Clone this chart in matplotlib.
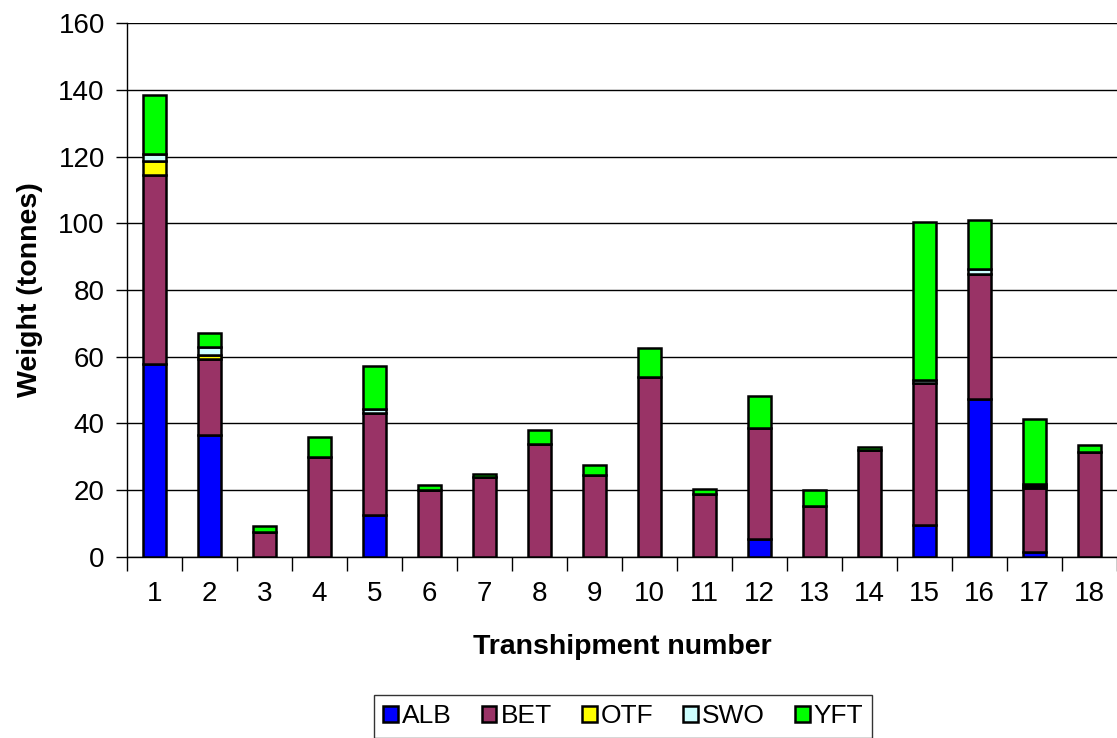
import matplotlib
matplotlib.use("Agg")
import matplotlib.pyplot as plt
import numpy as np
from matplotlib.patches import Patch

plt.rcParams['font.family'] = ['Liberation Sans', 'DejaVu Sans']

categories = [str(i) for i in range(1, 19)]
species = ["ALB", "BET", "OTF", "SWO", "YFT"]
ALB = [57.8, 36.6, 0, 0, 12.6, 0, 0, 0, 0, 0, 0, 5.3, 0, 0, 9.6, 47.3, 1.5, 0]
BET = [56.7, 22.7, 7.5, 30.0, 30.5, 20.0, 24.0, 34.0, 24.5, 54.0, 19.0, 33.2, 15.3, 32.0, 42.5, 37.5, 19.2, 31.5]
OTF = [4.2, 1.2, 0, 0, 0, 0, 0, 0, 0, 0, 0, 0, 0, 0, 0, 0, 0.6, 0]
SWO = [2.1, 2.4, 0, 0, 1.2, 0, 0, 0, 0, 0, 0, 0, 0, 0, 0.8, 1.5, 0.6, 0]
YFT = [17.7, 4.2, 1.8, 6.0, 13.0, 1.5, 1.0, 4.0, 3.0, 8.5, 1.5, 9.8, 4.7, 1.0, 47.4, 14.7, 19.5, 2.1]
colors = ["#0000FF", "#993366", "#FFFF00", "#CCFFFF", "#00FF00"]

series = [ALB, BET, OTF, SWO, YFT]

fig = plt.figure(figsize=(11.17, 7.38), dpi=100)
ax = fig.add_axes([0.1137, 0.2453, 0.8863, 0.7235])

x = np.arange(len(categories))
bottom = np.zeros(len(categories))
for name, vals, c in zip(species, series, colors):
    v = np.array(vals, dtype=float)
    ax.bar(x, v, width=0.42, bottom=bottom, color=c, edgecolor='black',
           linewidth=1.8, zorder=3, label=name)
    bottom += v

ax.set_ylim(0, 160)
ax.set_xlim(-0.5, len(categories) - 0.5)
ax.set_yticks(np.arange(0, 161, 20))
ax.yaxis.grid(True, color='black', linewidth=1.0, zorder=0)
ax.set_axisbelow(True)

ax.set_xticks(np.arange(-0.5, len(categories), 1.0))
ax.set_xticklabels([])
ax.set_xticks(x, minor=True)
ax.set_xticklabels(categories, minor=True)
ax.tick_params(axis='x', which='major', length=10, width=1, color='black', direction='out')
ax.tick_params(axis='x', which='minor', length=0, pad=17, labelsize=20)
ax.tick_params(axis='y', length=8, width=1, direction='out', labelsize=20, pad=8)

for s in ['top', 'right']:
    ax.spines[s].set_visible(False)
ax.spines['left'].set_linewidth(1.0)
ax.spines['bottom'].set_linewidth(1.0)

ax.set_xlabel("Transhipment number", fontsize=20.5, fontweight='bold', labelpad=20)
ax.set_ylabel("Weight (tonnes)", fontsize=20.5, fontweight='bold', labelpad=11)

handles = [Patch(facecolor=c, edgecolor='black', linewidth=1.8) for c in colors]
leg = fig.legend(handles, species, loc='upper center', bbox_to_anchor=(0.558, 0.058),
                 ncol=5, fontsize=19, frameon=True, fancybox=False, edgecolor='black',
                 handlelength=0.55, handleheight=0.55, handletextpad=0.15,
                 columnspacing=1.15, borderpad=0.35, borderaxespad=0.0)
leg.get_frame().set_linewidth(1.0)

fig.savefig("out.png", dpi=100)
